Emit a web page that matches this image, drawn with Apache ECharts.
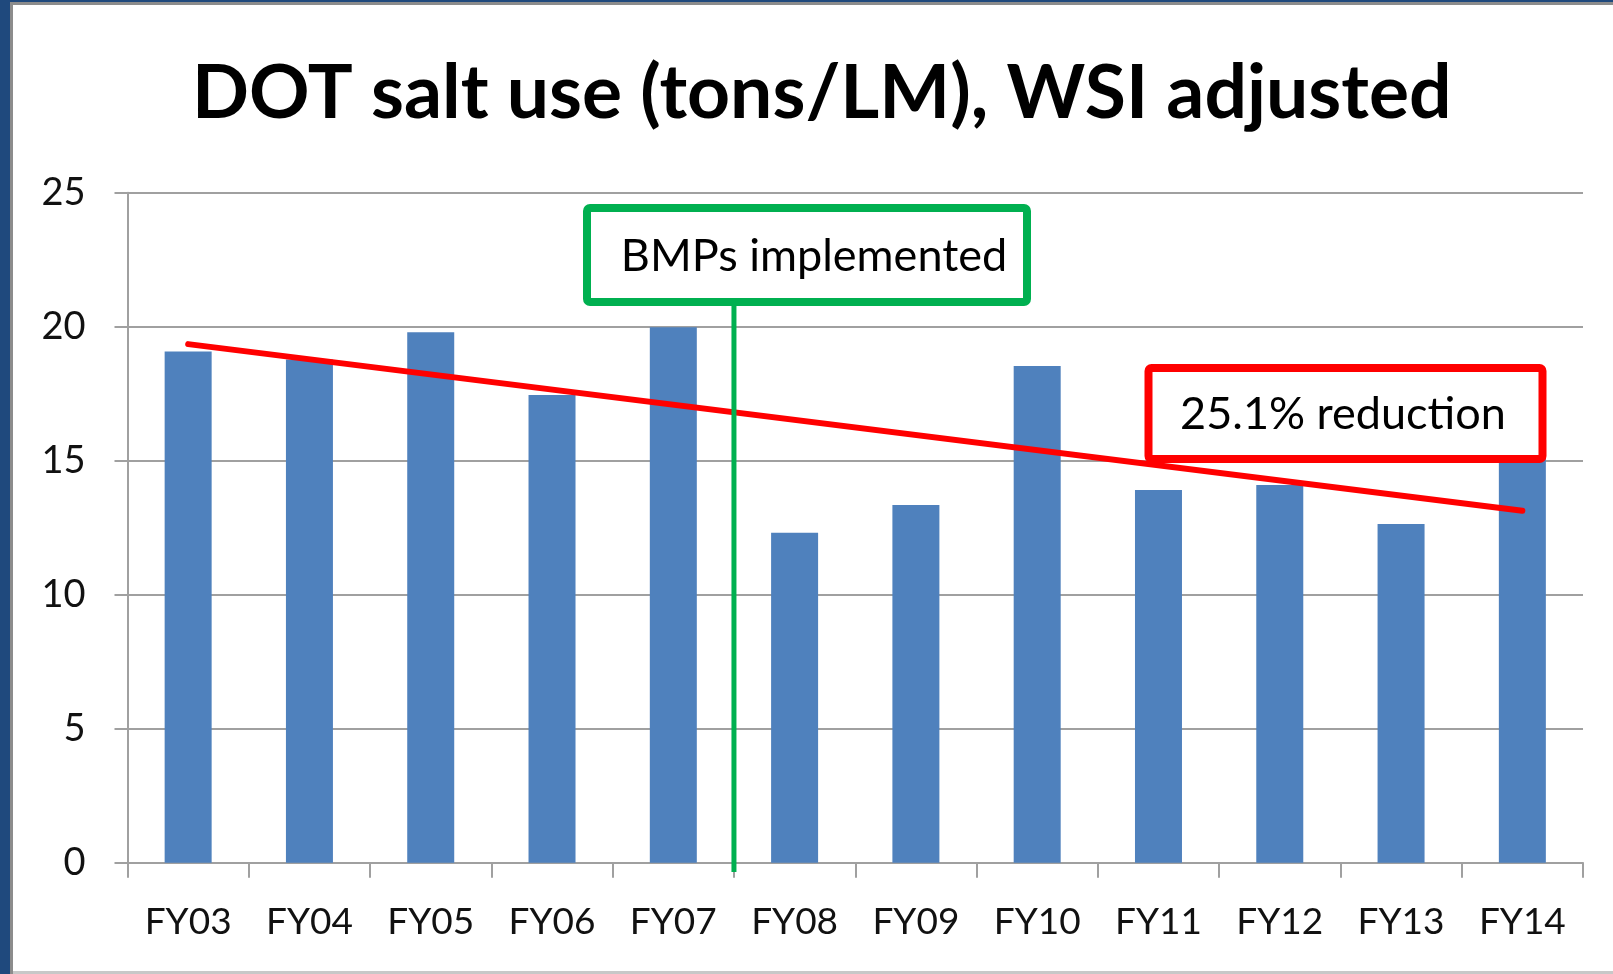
<!DOCTYPE html>
<html>
<head>
<meta charset="utf-8">
<script src="https://cdn.jsdelivr.net/npm/echarts@6/dist/echarts.min.js"></script>
<style>
  html, body { margin: 0; padding: 0; background: #fff; }
  #chart { width: 1613px; height: 974px; }
</style>
</head>
<body>
<div id="chart"></div>
<script>
// data
const categories = ['FY03', 'FY04', 'FY05', 'FY06', 'FY07', 'FY08', 'FY09', 'FY10', 'FY11', 'FY12', 'FY13', 'FY14'];
const saltUse = [19.07, 18.78, 19.79, 17.45, 19.98, 12.31, 13.35, 18.53, 13.91, 14.09, 12.64, 15.1];
const trendEnds = [19.35, 13.13]; // linear trend at FY03 and FY14
const yTicks = [0, 5, 10, 15, 20, 25];

const chart = echarts.init(document.getElementById('chart'));
const font = 'Lato, "Open Sans", sans-serif';

const option = {
    animation: false,
    backgroundColor: '#fff',
    title: {
        text: 'DOT salt use (tons/LM), WSI adjusted',
        left: 187,
        top: 51,
        textStyle: { fontFamily: font, fontWeight: 'bold', fontSize: 75, color: '#000' }
    },
    grid: { left: 127.5, right: 30, top: 192.7, bottom: 111.3 },
    xAxis: {
        type: 'category',
        data: categories,
        axisLine: { lineStyle: { color: '#a0a0a0', width: 2 } },
        axisTick: { show: true, length: 15, lineStyle: { color: '#a0a0a0', width: 2 } },
        axisLabel: { margin: 41, fontFamily: font, fontSize: 37, color: '#111' }
    },
    yAxis: {
        type: 'value',
        min: yTicks[0],
        max: yTicks[yTicks.length - 1],
        interval: 5,
        axisLine: { show: true, lineStyle: { color: '#a0a0a0', width: 2 } },
        axisTick: { show: true, length: 13, lineStyle: { color: '#a0a0a0', width: 2 } },
        splitLine: { lineStyle: { color: '#a0a0a0', width: 2 } },
        axisLabel: { margin: 42, fontFamily: font, fontSize: 38, color: '#111' }
    },
    series: [{
        type: 'bar',
        data: saltUse,
        barWidth: 47,
        itemStyle: { color: '#4f81bd' },
        markLine: {
            silent: true,
            symbol: 'none',
            label: { show: false },
            lineStyle: { color: '#ff0000', width: 6, type: 'solid', cap: 'round' },
            data: [[
                { coord: [categories[0], trendEnds[0]] },
                { coord: [categories[categories.length - 1], trendEnds[1]] }
            ]]
        }
    }]
};
chart.setOption(option);

// BMP line sits on the boundary between FY07 and FY08
const x7 = chart.convertToPixel({ xAxisIndex: 0 }, 'FY07');
const x8 = chart.convertToPixel({ xAxisIndex: 0 }, 'FY08');
const bmpX = (x7 + x8) / 2;

chart.setOption({
    graphic: [
        // slide frame
        { type: 'rect', shape: { x: 0, y: 0, width: 10, height: 974 }, style: { fill: '#1f497d' }, z: 200 },
        { type: 'rect', shape: { x: 10, y: 0, width: 3, height: 974 }, style: { fill: '#8c8c8c' }, z: 200 },
        { type: 'rect', shape: { x: 0, y: 0, width: 1613, height: 2 }, style: { fill: '#1f497d' }, z: 200 },
        { type: 'rect', shape: { x: 10, y: 2, width: 1603, height: 3 }, style: { fill: '#8c8c8c' }, z: 200 },
        { type: 'rect', shape: { x: 13, y: 971, width: 1600, height: 3 }, style: { fill: '#c8c8c8' }, z: 200 },
        // BMPs implemented
        { type: 'line', shape: { x1: bmpX, y1: 300, x2: bmpX, y2: 872 }, style: { stroke: '#00b050', lineWidth: 5 }, z: 100 },
        {
            type: 'rect', shape: { x: 587, y: 208, width: 440, height: 94, r: 3 },
            style: { fill: '#fff', stroke: '#00b050', lineWidth: 8 }, z: 101
        },
        {
            type: 'text', x: 814, y: 256, z: 102,
            style: { text: 'BMPs implemented', fontFamily: font, fontSize: 45, fill: '#000', align: 'center', verticalAlign: 'middle' }
        },
        // trend reduction
        {
            type: 'rect', shape: { x: 1148.5, y: 368, width: 394, height: 91, r: 3 },
            style: { fill: '#fff', stroke: '#ff0000', lineWidth: 8 }, z: 101
        },
        {
            type: 'text', x: 1343, y: 414, z: 102,
            style: { text: '25.1% reduction', fontFamily: font, fontSize: 45, fill: '#000', align: 'center', verticalAlign: 'middle' }
        }
    ]
});
</script>
</body>
</html>
